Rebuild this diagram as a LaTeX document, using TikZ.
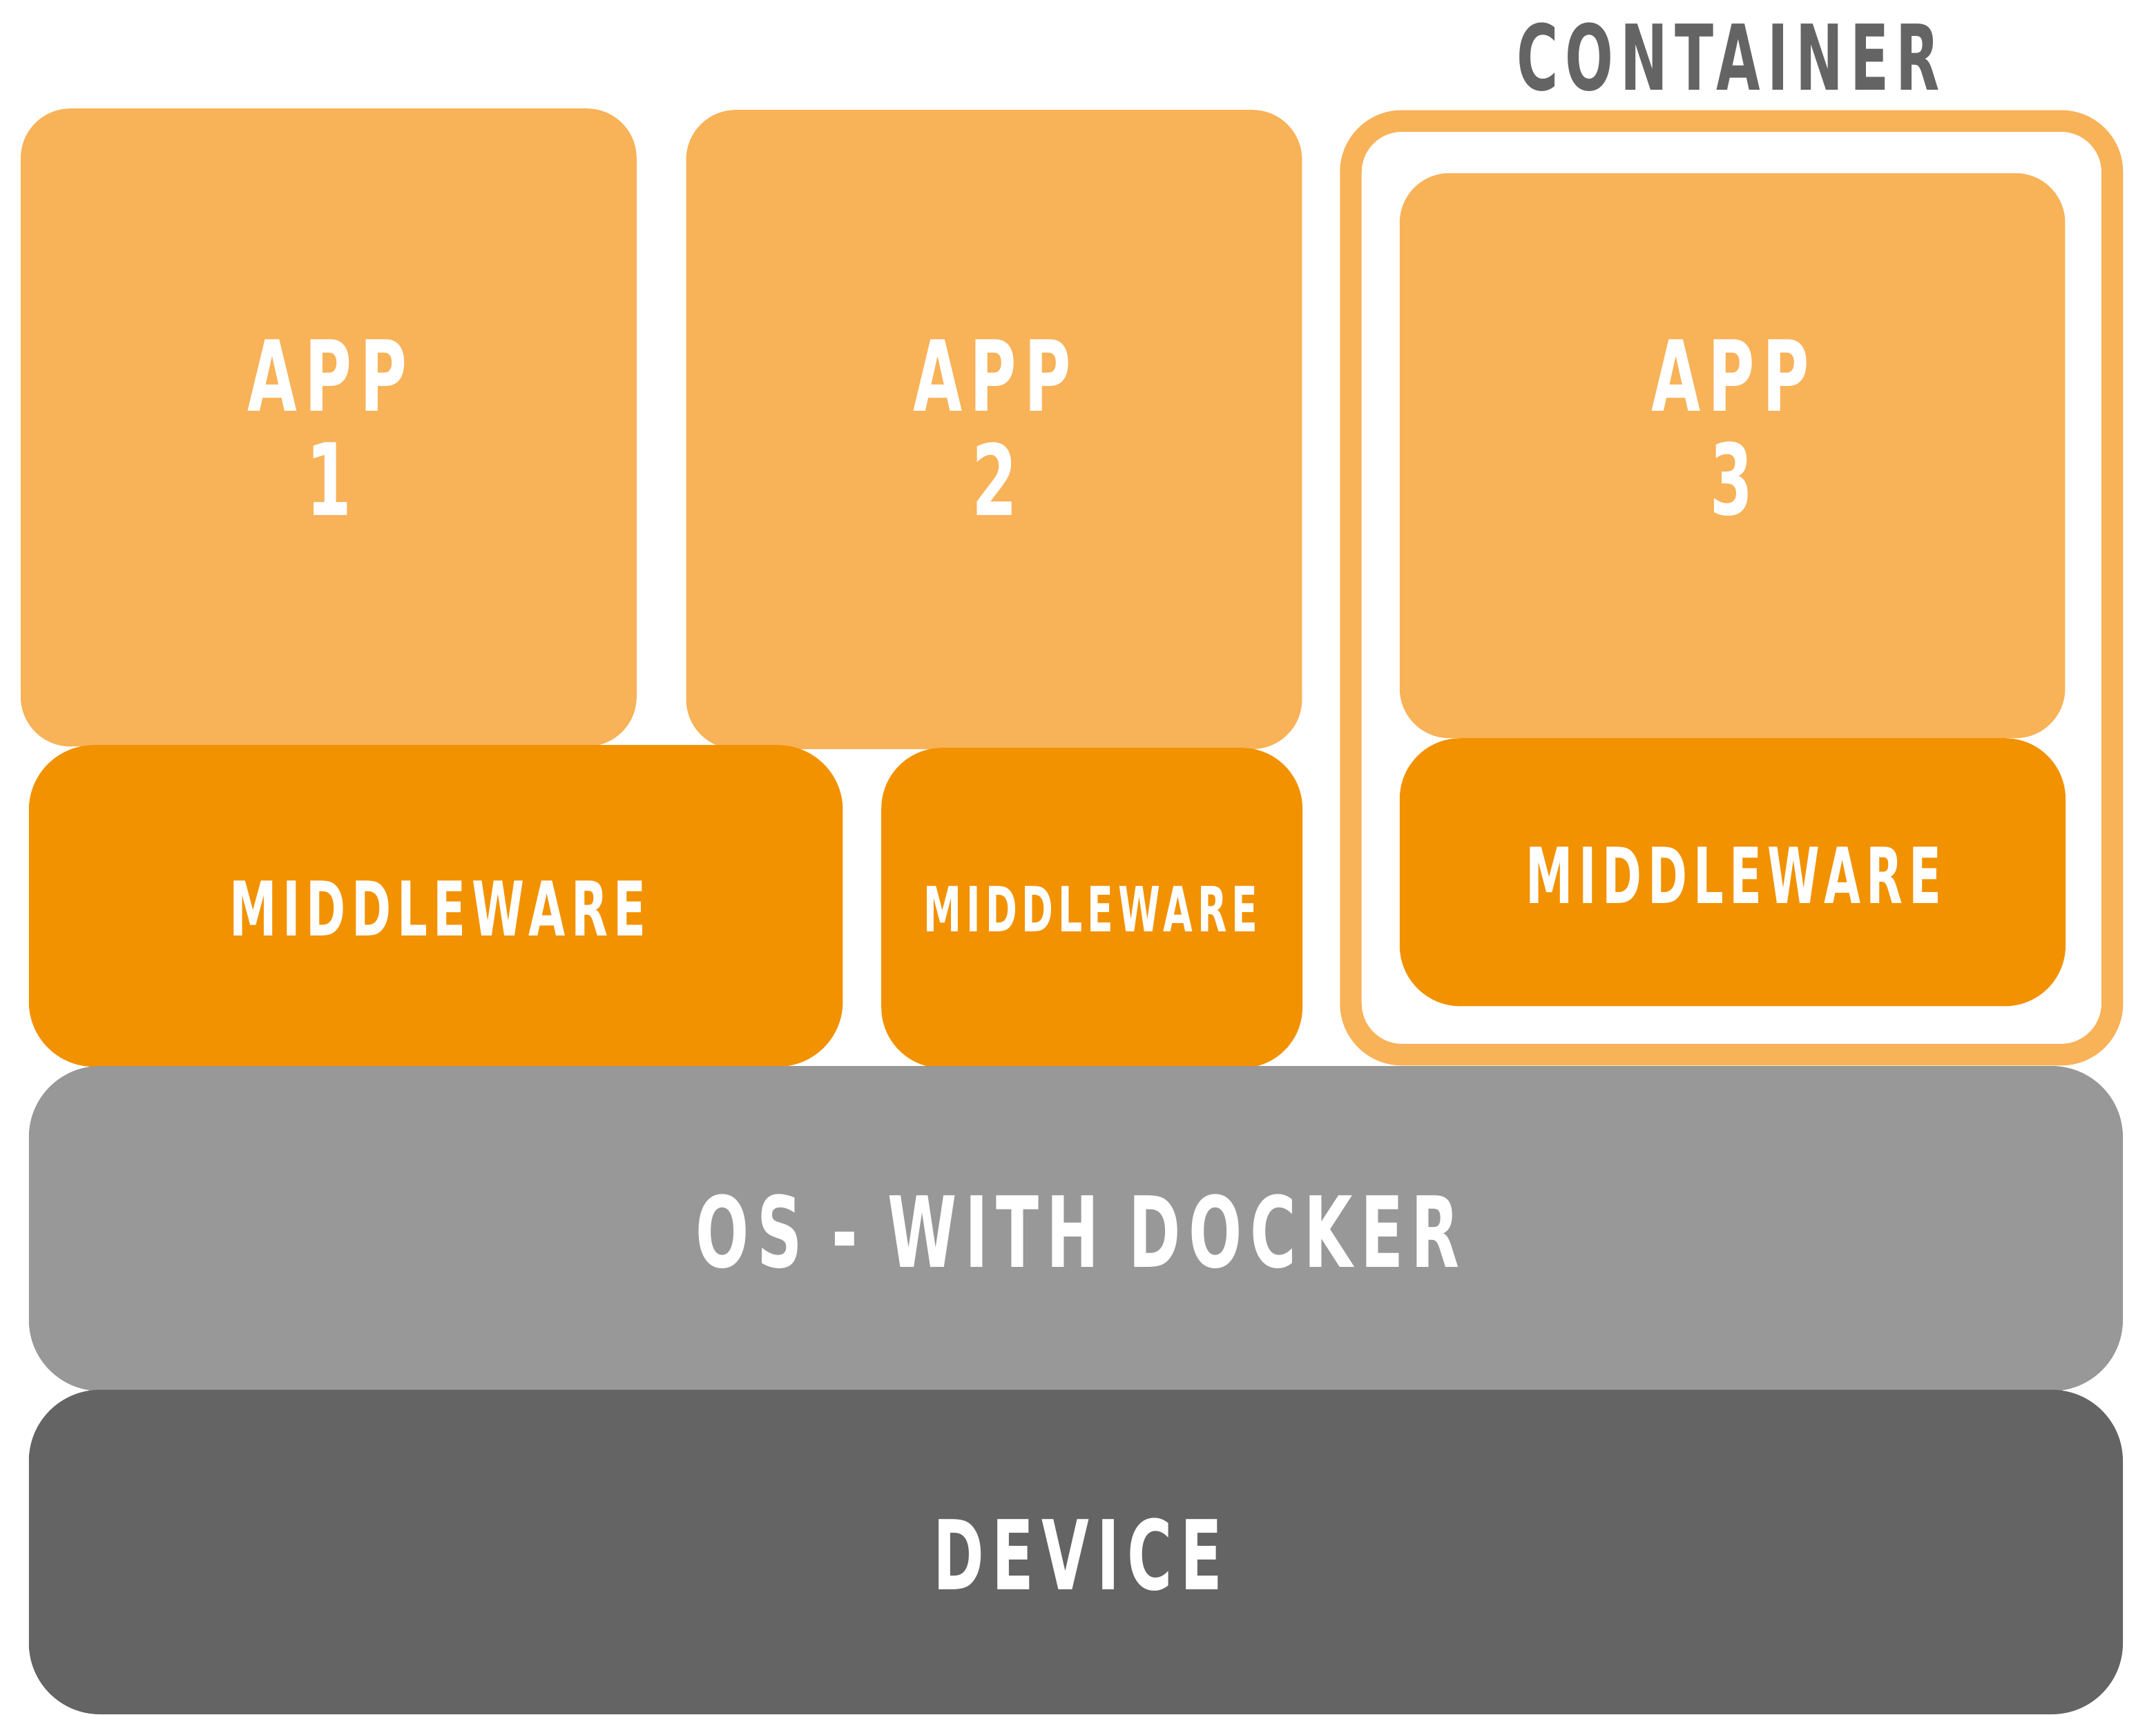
\documentclass[tikz,border=0pt]{standalone}
\usepackage{fontspec}
\usepackage{graphicx}
\setmainfont{DejaVu Sans}
\newfontfamily\lblfont{DejaVu Sans}[FakeStretch=0.72, LetterSpace=9]
\definecolor{appc}{HTML}{F8B258}
\definecolor{mwc}{HTML}{F29200}
\definecolor{osc}{HTML}{989898}
\definecolor{devc}{HTML}{646464}
\newcommand{\fitlabel}[3]{\resizebox{#1pt}{#2pt}{\lblfont\bfseries #3}}
\tikzset{
  lbl/.style={inner sep=0pt, outer sep=0pt, text=white, anchor=center}
}
\begin{document}
\begin{tikzpicture}[x=1pt,y=-1pt]
\useasboundingbox (0,0) rectangle (1561,1250);
% apps
\fill[appc, rounded corners=36pt] (15,78.6) rectangle (460.9,540.6);
\fill[appc, rounded corners=36pt] (496.8,79.6) rectangle (942.7,542.5);
% middleware
\fill[mwc, rounded corners=47pt] (20.9,539.6) rectangle (610.2,772.5);
\fill[mwc, rounded corners=44pt] (638.1,541.6) rectangle (943,773.5);
% container
\draw[appc, line width=15.7pt, rounded corners=37pt] (978,87.6) rectangle (1529.3,763.8);
\fill[appc, rounded corners=36pt] (1013.4,125.4) rectangle (1495.2,534.6);
\fill[mwc, rounded corners=44pt] (1013.4,534.6) rectangle (1495.5,728.7);
% OS and device
\fill[osc, rounded corners=51.5pt] (20.9,772) rectangle (1537,1007.4);
\fill[devc, rounded corners=51.5pt] (20.9,1006.5) rectangle (1537,1241.5);
% labels
\node[lbl] (a1) at (236.9,271.8) {\fitlabel{115.5}{51.8}{APP}};
\node[lbl] (n1) at (238.4,346.9) {\fitlabel{32.9}{52.8}{1}};
\node[lbl] (a2) at (718.3,271.8) {\fitlabel{114.5}{51.8}{APP}};
\node[lbl] (n2) at (720.2,346.9) {\fitlabel{32.9}{52.8}{2}};
\node[lbl] (a3) at (1252.8,271.8) {\fitlabel{114.5}{51.8}{APP}};
\node[lbl] (n3) at (1253.8,346.9) {\fitlabel{30.9}{52.8}{3}};
\node[lbl] (m1) at (317.1,658.0) {\fitlabel{301.6}{39.8}{MIDDLEWARE}};
\node[lbl] (m2) at (789.9,658.5) {\fitlabel{241.9}{32.9}{MIDDLEWARE}};
\node[lbl] (m3) at (1255.3,633.6) {\fitlabel{300.6}{40.8}{MIDDLEWARE}};
\node[lbl] (os) at (780.4,891.9) {\fitlabel{552.7}{52.8}{OS - WITH DOCKER}};
\node[lbl] (dv) at (780.5,1125.9) {\fitlabel{209}{51.8}{DEVICE}};
\node[lbl, text=devc] (ct) at (1251.3,41.3) {\fitlabel{306.6}{48.8}{CONTAINER}};
\end{tikzpicture}
\end{document}
